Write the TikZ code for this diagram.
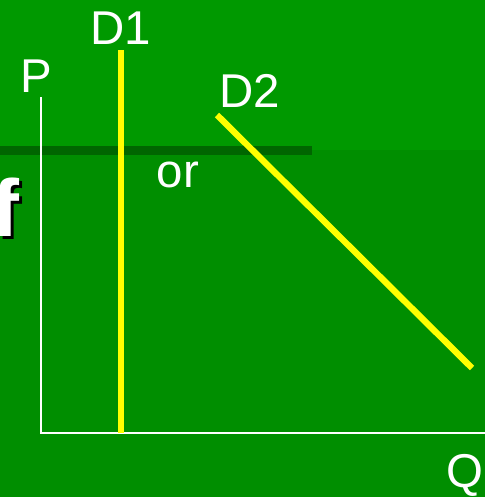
\documentclass[tikz,border=0pt]{standalone}
\usepackage{fontspec}
\setmainfont{Liberation Sans}
\usepackage{xcolor}
\usepackage{tikz}
\usetikzlibrary{positioning}

\definecolor{slidetop}{RGB}{0,153,0}
\definecolor{slidelow}{RGB}{0,142,0}
\definecolor{slidebar}{RGB}{0,102,0}
\definecolor{curveyel}{RGB}{255,255,0}

\begin{document}
\begin{tikzpicture}[
    x=0.02cm, y=-0.02cm,
    every node/.style={font=\fontsize{27}{30}\selectfont, text=white,
        inner sep=0pt, anchor=base},
    axis/.style={draw=white, line width=1.2pt},
    demand/.style={draw=curveyel, line width=3.6pt},
]

\clip (0,0) rectangle (485,497);
\useasboundingbox (0,0) rectangle (485,497);

% slide background
\fill[slidetop] (0,0) rectangle (485,150);
\fill[slidelow] (0,150) rectangle (485,497);
\fill[slidebar] (0,146) rectangle (312,155);

% cut-off title letter
\node[font=\fontsize{46}{50}\bfseries, text=black, anchor=base west]
    (fshadow) at (-5,239) {f};
\node[font=\fontsize{46}{50}\bfseries, anchor=base west]
    (ftitle) at (-8,236) {f};

% axes
\coordinate (origin) at (41,433);
\coordinate (ptop) at (41,97);
\coordinate (qend) at (485,433);
\draw[axis] (ptop) -- (origin) -- (qend);
\node (plabel) at (36,92) {P};
\node (qlabel) at (465,487) {Q};

% demand curves
\coordinate (d1top) at (121,50);
\coordinate (d1bot) at (121,433);
\coordinate (d2top) at (217,115);
\coordinate (d2bot) at (472,368);
\draw[demand] (d1top) -- (d1bot);
\draw[demand] (d2top) -- (d2bot);
\node (d1label) at (121,44) {D1};
\node (d2label) at (250,107) {D2};
\node (orlabel) at (178,187) {or};

\end{tikzpicture}
\end{document}
